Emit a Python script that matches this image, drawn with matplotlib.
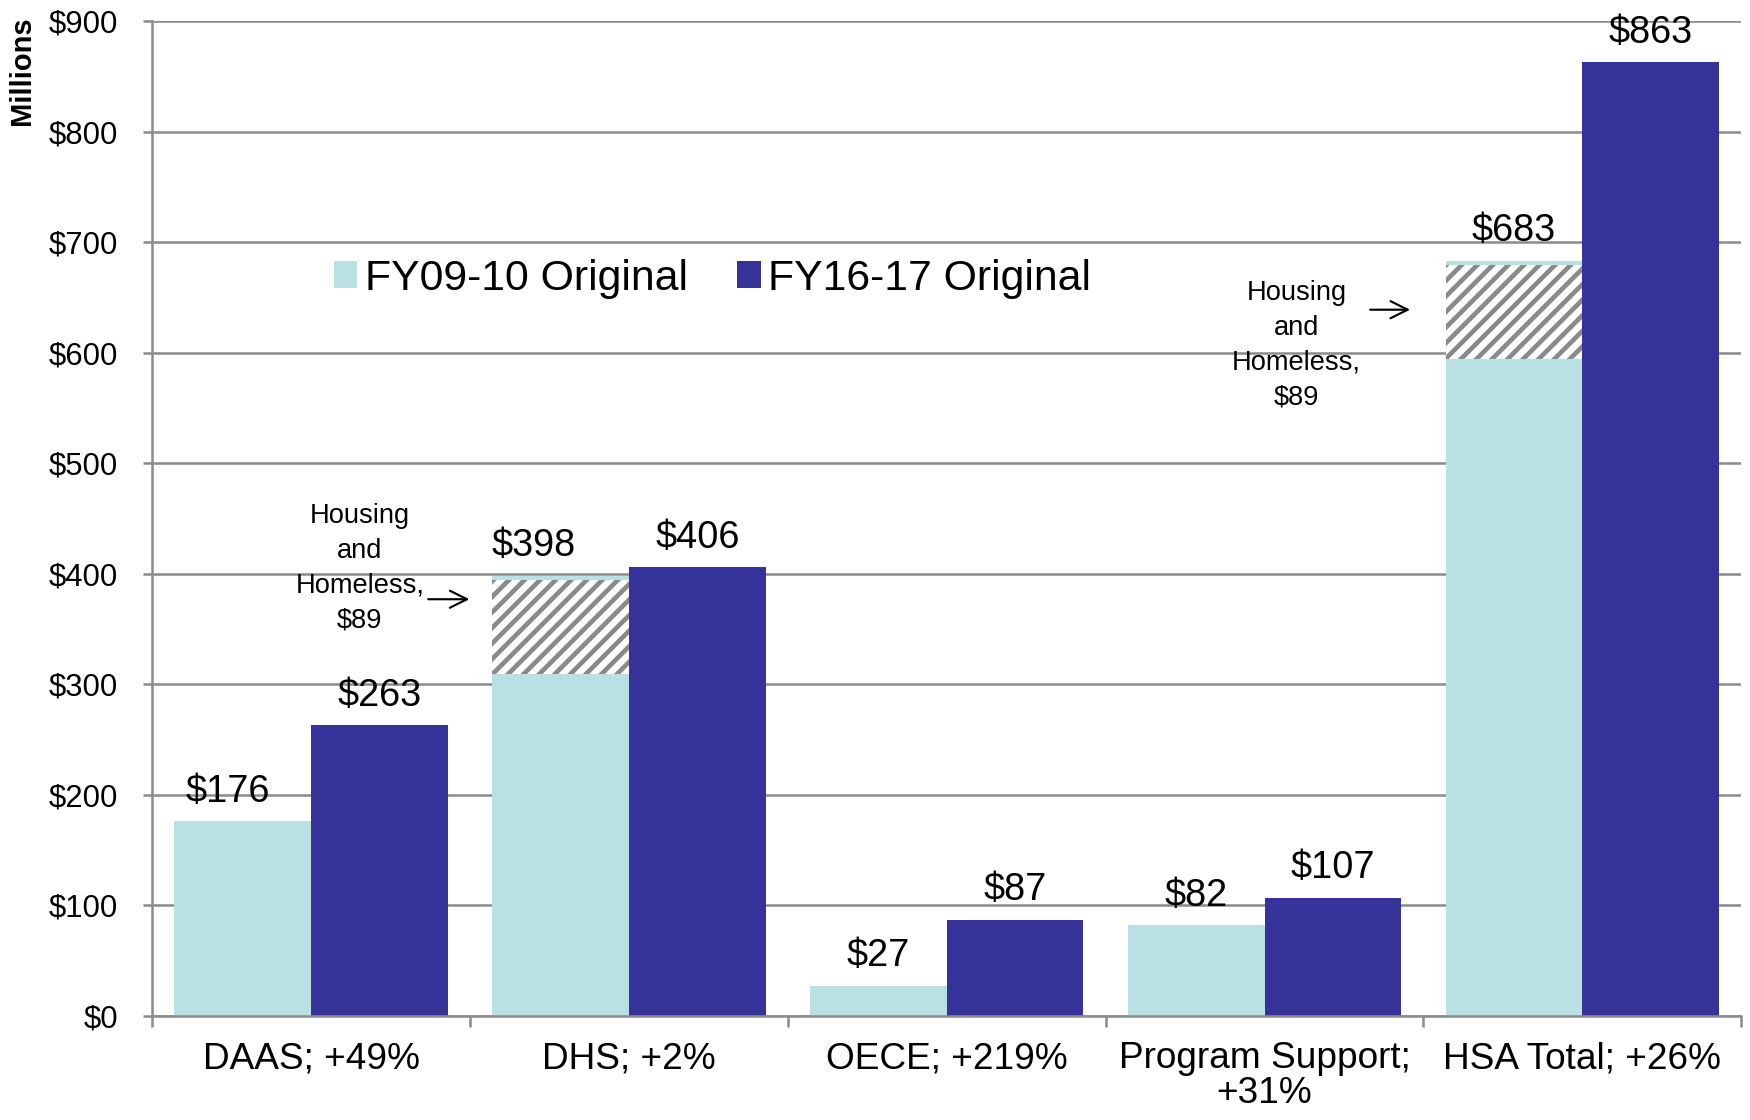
import matplotlib
matplotlib.use("Agg")
import matplotlib.pyplot as plt
import numpy as np

plt.rcParams['font.family'] = ['Liberation Sans', 'DejaVu Sans']
plt.rcParams['hatch.linewidth'] = 2.4
plt.rcParams['hatch.color'] = '#8a8a8a'

categories = ['DAAS; +49%', 'DHS; +2%', 'OECE; +219%', 'Program Support;\n+31%', 'HSA Total; +26%']
fy0910 = [176, 398, 27, 82, 683]
fy1617 = [263, 406, 87, 107, 863]
housing = [0, 89, 0, 0, 89]   # housing and homeless part of FY09-10
yticks = list(range(0, 1000, 100))

light = '#b9e0e3'
dark = '#353399'
grid = '#8c8c8c'

# a couple of labels were nudged left by hand in the original (points)
nudge0910 = [-8, -14, 0, 0, 0]

fig = plt.figure(figsize=(12.5, 8), dpi=140)
ax = fig.add_axes([0.087, 0.093, 0.908, 0.888])

x = np.arange(len(categories))
w = 0.43
ax.bar(x - w/2, fy0910, w, color=light, label='FY09-10 Original', zorder=2)
ax.bar(x + w/2, fy1617, w, color=dark, label='FY16-17 Original', zorder=2)

# hatched housing & homeless slice on top of the light bars
for i in range(len(categories)):
    if housing[i] > 0:
        ax.bar(x[i] - w/2, housing[i] - 4, w, bottom=fy0910[i] - housing[i],
               color='white', hatch='///', edgecolor='#8a8a8a', linewidth=0, zorder=3)

for i in range(len(categories)):
    ax.annotate(f'${fy0910[i]}', (x[i] - w/2, fy0910[i]), xytext=(nudge0910[i], 6),
                textcoords='offset points', ha='center', va='bottom', fontsize=19.5)
    ax.annotate(f'${fy1617[i]}', (x[i] + w/2, fy1617[i]), xytext=(0, 6),
                textcoords='offset points', ha='center', va='bottom', fontsize=19.5)

ax.text(0.153, 405, 'Housing\nand\nHomeless,\n$89', ha='center', va='center',
        fontsize=14, linespacing=1.45)
ax.annotate('', xy=(0.51, 377), xytext=(0.356, 377),
            arrowprops=dict(arrowstyle='->', color='black', lw=1.1, mutation_scale=22))
ax.text(3.10, 607, 'Housing\nand\nHomeless,\n$89', ha='center', va='center',
        fontsize=14, linespacing=1.45)
ax.annotate('', xy=(3.47, 639), xytext=(3.32, 639),
            arrowprops=dict(arrowstyle='->', color='black', lw=1.1, mutation_scale=22))

ax.set_xlim(-0.5, len(categories) - 0.5)
ax.set_ylim(0, 900)
ax.set_yticks(yticks)
ax.set_yticklabels([f'${v}' for v in yticks], fontsize=16)
ax.yaxis.grid(True, color=grid, linewidth=1.3, zorder=0)
ax.set_axisbelow(True)

ax.set_xticks(x)
ax.set_xticklabels(categories, fontsize=19, linespacing=1.0, va='top')
ax.set_xticks(np.arange(len(categories) + 1) - 0.5, minor=True)
ax.tick_params(axis='x', which='major', length=0, pad=13)
ax.tick_params(axis='x', which='minor', length=5.5, width=1.3, color=grid)
ax.tick_params(axis='y', length=4.6, width=1.3, color=grid, pad=13)

for s in ['top', 'right']:
    ax.spines[s].set_visible(False)
for s in ['left', 'bottom']:
    ax.spines[s].set_color(grid)
    ax.spines[s].set_linewidth(1.3)

ax.legend(loc='center left', bbox_to_anchor=(0.09, 0.741), ncol=2, frameon=False,
          fontsize=22, handlelength=0.55, handleheight=0.6, handletextpad=0.18,
          columnspacing=1.15)

fig.text(0.0125, 0.937, 'Millions', rotation=90, ha='center', va='center',
         fontsize=15, fontweight='bold')

fig.savefig('out.png', dpi=140)
